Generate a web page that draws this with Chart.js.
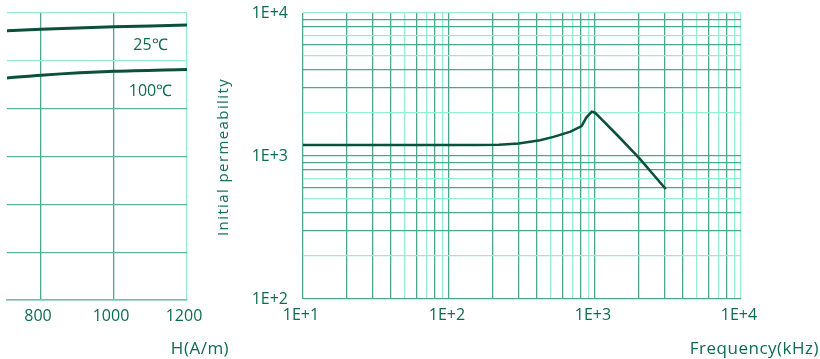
<!doctype html>
<html>

<head>
    <meta charset="utf-8">
    <title>Initial permeability</title>
    <script src="https://cdn.jsdelivr.net/npm/chart.js"></script>
    <style>
        body {
            margin: 0;
            width: 820px;
            height: 359px;
            position: relative;
            overflow: hidden;
            background: #ffffff;
            font-family: 'Open Sans', sans-serif;
        }

        .caixa {
            position: absolute;
            top: 0;
        }

        .titulo-eixo {
            position: absolute;
            top: 336px;
            line-height: 24px;
            font-size: 17px;
            letter-spacing: 0.5px;
            color: #0e6b52;
            white-space: nowrap;
        }

        .titulo-y {
            position: absolute;
            left: 222px;
            top: 157px;
            font-size: 15px;
            line-height: 18px;
            letter-spacing: 1.4px;
            color: #0e6b52;
            white-space: nowrap;
            transform: translate(-50%, -50%) rotate(-90deg);
        }
    </style>
</head>

<body>
    <div class="caixa" style="left:0px"><canvas id="graficoBH" width="215" height="359"></canvas></div>
    <div class="caixa" style="left:200px"><canvas id="graficoMu" width="620" height="359"></canvas></div>
    <div class="titulo-eixo" style="left:200px; transform:translateX(-50%)">H(A/m)</div>
    <div class="titulo-eixo" style="right:1px">Frequency(kHz)</div>
    <div class="titulo-y">Initial permeability</div>

    <script>
        // left panel (cropped B-H plot)
        var hValues = [707, 800, 1000, 1200]
        var b25 = [563, 566, 571, 575]
        var b100 = [464, 470, 478, 482]
        var hTicks = [800, 1000, 1200]
        var tempLabels = ['25℃', '100℃']

        // right panel: initial permeability vs frequency
        var freq = [10, 50, 100, 150, 220, 300, 420, 520, 680, 810, 870, 950, 1000, 1440, 2030, 3050]
        var mu = [1195, 1195, 1195, 1196, 1200, 1225, 1290, 1360, 1480, 1620, 1850, 2040, 2010, 1380, 955, 588]
        var decades = [10, 100, 1000, 10000]
        var decadeLabels = ['1E+1', '1E+2', '1E+3', '1E+4']
        var muDecades = [100, 1000, 10000]
        var muLabels = ['1E+2', '1E+3', '1E+4']
        var multipliers = [1, 2, 3, 4, 5, 6, 7, 8, 9]

        var corTexto = '#0e6b52'
        var corLinha = '#0b4f3c'
        var gradeEscura = '#4aa98c'
        var gradeClara = '#96ecd5'
        var fonte = "'Open Sans', sans-serif"

        function gradeLog(lista) {
            var valores = []
            lista.slice(0, -1).forEach(d => multipliers.forEach(m => valores.push(d * m)))
            valores.push(lista[lista.length - 1])
            return valores
        }

        function significando(v) {
            return Math.round(v / Math.pow(10, Math.floor(Math.log10(v) + 1e-9)))
        }

        // fixed axis sizes, no extra padding from the tick labels
        function larguraFixa(w) {
            return s => { s.width = w; s.paddingTop = 0; s.paddingBottom = 0 }
        }
        function alturaFixa(h) {
            return s => { s.height = h; s.paddingLeft = 0; s.paddingRight = 0 }
        }

        var freqGrid = gradeLog(decades)
        var muGrid = gradeLog(muDecades)

        var rotulosTemp = {
            id: 'rotulosTemp',
            afterDatasetsDraw(chart) {
                var ctx = chart.ctx
                var x = chart.scales.x
                var y = chart.scales.y
                ctx.save()
                ctx.fillStyle = corTexto
                ctx.font = '16px ' + fonte
                ctx.textAlign = 'center'
                ctx.textBaseline = 'middle'
                ctx.fillText(tempLabels[0], x.getPixelForValue(1100), y.getPixelForValue(533))
                ctx.fillText(tempLabels[1], x.getPixelForValue(1100), y.getPixelForValue(435))
                ctx.restore()
            }
        }

        var graficoBH = new Chart(document.getElementById('graficoBH').getContext('2d'), {
            type: 'line',
            data: {
                datasets: [{
                    label: '25℃',
                    data: hValues.map((h, i) => ({ x: h, y: b25[i] })),
                    borderColor: corLinha,
                    borderWidth: 3,
                    pointRadius: 0,
                    tension: 0.3
                }, {
                    label: '100℃',
                    data: hValues.map((h, i) => ({ x: h, y: b100[i] })),
                    borderColor: corLinha,
                    borderWidth: 3,
                    pointRadius: 0,
                    tension: 0.3
                }]
            },
            options: {
                responsive: false,
                animation: false,
                layout: { padding: { left: 0, right: 28, top: 13, bottom: 0 } },
                plugins: { legend: { display: false }, tooltip: { enabled: false } },
                scales: {
                    x: {
                        type: 'linear',
                        min: 707,
                        max: 1200,
                        afterBuildTicks: s => { s.ticks = hTicks.map(v => ({ value: v })) },
                        afterFit: alturaFixa(59),
                        grid: {
                            drawTicks: false,
                            lineWidth: 1.3,
                            color: c => c.tick && c.tick.value == 1200 ? gradeClara : gradeEscura
                        },
                        border: { display: true, color: '#6cc4a8', width: 1.5 },
                        ticks: {
                            autoSkip: false,
                            maxRotation: 0,
                            padding: 7,
                            labelOffset: -3,
                            color: corTexto,
                            font: { size: 16, family: fonte },
                            callback: v => String(v)
                        }
                    },
                    y: {
                        min: 0,
                        max: 600,
                        afterFit: larguraFixa(7),
                        grid: {
                            drawTicks: false,
                            lineWidth: 1.3,
                            color: c => c.tick && c.tick.value >= 500 ? gradeClara : '#5bb598'
                        },
                        border: { display: false },
                        ticks: { stepSize: 100, display: false }
                    }
                }
            },
            plugins: [rotulosTemp]
        });

        var graficoMu = new Chart(document.getElementById('graficoMu').getContext('2d'), {
            type: 'line',
            data: {
                datasets: [{
                    label: 'Initial permeability',
                    data: freq.map((f, i) => ({ x: f, y: mu[i] })),
                    borderColor: corLinha,
                    borderWidth: 2.5,
                    pointRadius: 0,
                    tension: 0
                }]
            },
            options: {
                responsive: false,
                animation: false,
                layout: { padding: { left: 0, right: 79, top: 13, bottom: 0 } },
                plugins: { legend: { display: false }, tooltip: { enabled: false } },
                scales: {
                    x: {
                        type: 'logarithmic',
                        min: 10,
                        max: 10000,
                        afterBuildTicks: s => { s.ticks = freqGrid.map(v => ({ value: v })) },
                        afterFit: alturaFixa(60),
                        grid: {
                            drawTicks: false,
                            lineWidth: 1.3,
                            color: c => {
                                if (!c.tick) return gradeEscura
                                var v = c.tick.value
                                return (v == 10000 || [5, 7, 9].includes(significando(v))) ? gradeClara : gradeEscura
                            }
                        },
                        border: { display: false },
                        ticks: {
                            autoSkip: false,
                            maxRotation: 0,
                            padding: 7,
                            labelOffset: -2,
                            color: corTexto,
                            font: { size: 16, family: fonte },
                            callback: v => {
                                var i = decades.indexOf(v)
                                return i >= 0 ? decadeLabels[i] : ''
                            }
                        }
                    },
                    y: {
                        type: 'logarithmic',
                        min: 100,
                        max: 10000,
                        afterBuildTicks: s => { s.ticks = muGrid.map(v => ({ value: v })) },
                        afterFit: larguraFixa(103),
                        grid: {
                            drawTicks: false,
                            lineWidth: 1.3,
                            color: c => {
                                if (!c.tick) return gradeEscura
                                var v = c.tick.value
                                return (v == 10000 || [2, 5, 7].includes(significando(v))) ? gradeClara : gradeEscura
                            }
                        },
                        border: { display: false },
                        ticks: {
                            autoSkip: false,
                            padding: 15,
                            color: corTexto,
                            font: { size: 16, family: fonte },
                            callback: v => {
                                var i = muDecades.indexOf(v)
                                return i >= 0 ? muLabels[i] : ''
                            }
                        }
                    }
                }
            }
        });
    </script>
</body>

</html>
